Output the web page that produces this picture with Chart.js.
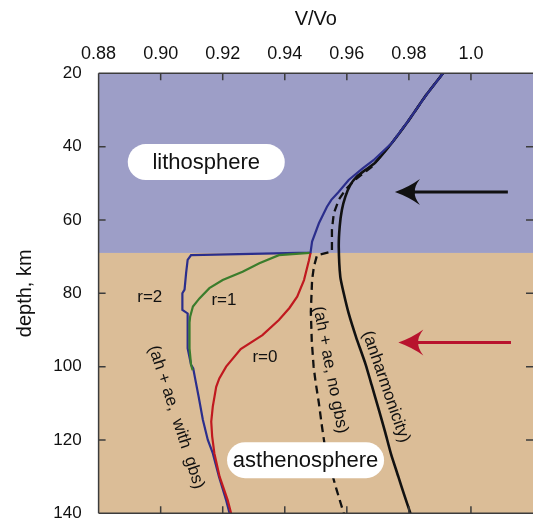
<!DOCTYPE html>
<html lang="en">
<head>
<meta charset="UTF-8">
<title>V/Vo vs depth</title>
<script src="https://cdn.jsdelivr.net/npm/chart.js"></script>
<style>
  html, body { margin: 0; padding: 0; background: #fff; }
  #wrap { width: 533px; height: 524px; }
</style>
</head>
<body>
<div id="wrap"><canvas id="chart"></canvas></div>
<script>
// axis ticks
const velocityTicks = [0.88, 0.90, 0.92, 0.94, 0.96, 0.98, 1.00];
const depthTicks = [20, 40, 60, 80, 100, 120, 140];
const lithosphereBase = 69; // km

// anharmonicity only (solid black)
const anhDepth = [20, 26, 33, 39, 44.5, 46.4, 48.2, 50.5, 53.7, 57.3, 61.8, 67.3, 75.5, 80, 85.5, 92, 99, 105, 112, 118, 124, 130, 135, 140];
const anhV     = [0.991, 0.9855, 0.9798, 0.9745, 0.969, 0.9659, 0.9632, 0.9611, 0.9595, 0.9584, 0.9577, 0.9574, 0.9579, 0.959, 0.9606, 0.963, 0.9659, 0.968, 0.9704, 0.9724, 0.9743, 0.9766, 0.9785, 0.9805];

// ah + ae, no gbs (dashed)
const noGbsDepth = [20, 26, 33, 39, 44, 45.5, 49, 51.8, 54.5, 58.2, 62.7, 68.6, 69.6, 72.7, 76.4, 85, 93, 100, 104, 110, 116.4, 121, 127, 133, 140];
const noGbsV     = [0.991, 0.9855, 0.9798, 0.9745, 0.9695, 0.968, 0.9627, 0.9595, 0.9574, 0.9558, 0.9552, 0.9552, 0.9504, 0.9494, 0.9488, 0.9484, 0.9487, 0.9493, 0.9499, 0.951, 0.952, 0.9528, 0.9545, 0.9565, 0.959];

// ah + ae, with gbs, r=2 (blue)
const r2Depth = [20, 26, 33, 39, 43.7, 46, 49.1, 52.5, 54.5, 56.4, 60.9, 65.9, 68.9, 69.6, 70.9, 74.5, 79, 80, 84.5, 85.5, 95, 99.5, 100.5, 103.2, 108, 114.5, 120, 123.6, 130, 136.4, 140];
const r2V     = [0.991, 0.9855, 0.9798, 0.9745, 0.9686, 0.965, 0.9606, 0.9572, 0.955, 0.9536, 0.951, 0.9488, 0.9483, 0.9098, 0.9087, 0.9082, 0.9077, 0.907, 0.907, 0.9087, 0.9087, 0.9098, 0.9105, 0.9111, 0.9122, 0.9136, 0.9152, 0.9168, 0.9188, 0.9211, 0.9222];

// r=1 (green)
const r1Depth = [69.0, 69.6, 71.8, 74.1, 76.4, 78.6, 81.4, 83.6, 86.4, 88, 95, 99.5, 101];
const r1V     = [0.948, 0.9381, 0.9318, 0.9264, 0.92, 0.9157, 0.9125, 0.9104, 0.9095, 0.9093, 0.9093, 0.9098, 0.9103];

// r=0 (red)
const r0Depth = [69.0, 71, 76.4, 80.9, 84, 87.3, 91.4, 95.2, 100, 103.2, 105.5, 110.9, 115, 119, 123.6, 130, 136.4, 140];
const r0V     = [0.9483, 0.9478, 0.9462, 0.944, 0.9415, 0.9381, 0.9328, 0.9258, 0.9211, 0.9189, 0.9179, 0.9168, 0.9163, 0.9166, 0.9173, 0.919, 0.9216, 0.9227];

const FONT = '"Liberation Sans", Arial, Helvetica, sans-serif';

function pts(depth, v) {
    return depth.map((d, i) => ({ x: v[i], y: d }));
}

function line(data, color, width, extra) {
    return Object.assign({
        data: data,
        showLine: true,
        borderColor: color,
        borderWidth: width,
        pointRadius: 0,
        tension: 0,
        fill: false
    }, extra || {});
}

function drawArrow(ctx, x1, x2, y, color) {
    // x1 = tail, x2 = tip (pointing left)
    ctx.save();
    ctx.strokeStyle = color;
    ctx.fillStyle = color;
    ctx.lineWidth = 3;
    ctx.beginPath();
    ctx.moveTo(x1, y);
    ctx.lineTo(x2 + 18, y);
    ctx.stroke();
    ctx.beginPath();
    ctx.moveTo(x2, y);
    ctx.quadraticCurveTo(x2 + 14, y - 5, x2 + 25, y - 13);
    ctx.quadraticCurveTo(x2 + 19, y - 5, x2 + 20, y);
    ctx.quadraticCurveTo(x2 + 19, y + 5, x2 + 25, y + 13);
    ctx.quadraticCurveTo(x2 + 14, y + 5, x2, y);
    ctx.fill();
    ctx.restore();
}

const decor = {
    id: 'decor',
    beforeDatasetsDraw(chart) {
        const { ctx, chartArea: a, scales: { x, y } } = chart;
        const yb = y.getPixelForValue(lithosphereBase);
        ctx.save();
        ctx.fillStyle = '#9d9ec7';
        ctx.fillRect(a.left, a.top, a.right - a.left, yb - a.top);
        ctx.fillStyle = '#dbbd97';
        ctx.fillRect(a.left, yb, a.right - a.left, a.bottom - yb);
        ctx.restore();
    },
    afterDatasetsDraw(chart) {
        const { ctx, chartArea: a, scales: { x, y } } = chart;
        ctx.save();
        // frame and inward ticks
        ctx.strokeStyle = '#3c3c3c';
        ctx.lineWidth = 1.5;
        ctx.beginPath();
        ctx.moveTo(a.left, a.top); ctx.lineTo(a.right, a.top);
        ctx.moveTo(a.left, a.top); ctx.lineTo(a.left, a.bottom);
        ctx.moveTo(a.left, a.bottom); ctx.lineTo(a.right, a.bottom);
        velocityTicks.forEach(v => {
            const px = x.getPixelForValue(v);
            ctx.moveTo(px, a.top); ctx.lineTo(px, a.top + 7);
            ctx.moveTo(px, a.bottom); ctx.lineTo(px, a.bottom - 7);
        });
        depthTicks.forEach(d => {
            const py = y.getPixelForValue(d);
            ctx.moveTo(a.left, py); ctx.lineTo(a.left + 7, py);
            ctx.moveTo(a.right, py); ctx.lineTo(a.right - 7, py);
        });
        ctx.stroke();

        // arrows
        drawArrow(ctx, x.getPixelForValue(1.0119), x.getPixelForValue(0.9755), y.getPixelForValue(52.4), '#111');
        drawArrow(ctx, x.getPixelForValue(1.0129), x.getPixelForValue(0.9766), y.getPixelForValue(93.4), '#b8132e');

        // region labels in white pills
        const pill = (text, v, d) => {
            const cx = x.getPixelForValue(v), cy = y.getPixelForValue(d);
            const w = 157, h = 36;
            ctx.fillStyle = '#fff';
            ctx.beginPath();
            ctx.roundRect(cx - w / 2, cy - h / 2, w, h, h / 2);
            ctx.fill();
            ctx.fillStyle = '#111';
            ctx.font = '22px ' + FONT;
            ctx.textAlign = 'center';
            ctx.textBaseline = 'middle';
            ctx.fillText(text, cx, cy + 1);
        };
        pill('lithosphere', 0.9147, 44.2);
        pill('asthenosphere', 0.9467, 125.5);

        // curve labels
        const label = (text, v, d, deg, size) => {
            ctx.save();
            ctx.translate(x.getPixelForValue(v), y.getPixelForValue(d));
            ctx.rotate(deg * Math.PI / 180);
            ctx.fillStyle = '#111';
            ctx.font = size + 'px ' + FONT;
            ctx.textAlign = 'center';
            ctx.textBaseline = 'middle';
            ctx.fillText(text, 0, 0);
            ctx.restore();
        };
        label('r=2', 0.8965, 81, 0, 17);
        label('r=1', 0.9204, 82, 0, 17);
        label('r=0', 0.9336, 97.4, 0, 17);
        label('(ah + ae,  with  gbs)', 0.9050, 113.8, 72, 17);
        label('(ah + ae, no gbs)', 0.95465, 100.9, 79, 17);
        label('(anharmonicity)', 0.9726, 105.5, 71, 17);
        ctx.restore();
    }
};

new Chart(document.getElementById('chart'), {
    type: 'scatter',
    data: {
        datasets: [
            line(pts(r1Depth, r1V), '#3b7d2c', 2.2),
            line(pts(r0Depth, r0V), '#c0191f', 2.2),
            line(pts(r2Depth, r2V), '#2b2e8c', 2.2),
            line(pts(noGbsDepth, noGbsV), '#111', 2.3, { borderDash: [8, 5] }),
            line(pts(anhDepth, anhV), '#111', 2.6, { tension: 0.15 })
        ]
    },
    options: {
        responsive: true,
        maintainAspectRatio: false,
        animation: false,
        devicePixelRatio: 1,
        layout: { padding: { left: 0, top: 0, right: -2, bottom: 10.7 } },
        plugins: { legend: { display: false }, tooltip: { enabled: false } },
        scales: {
            x: {
                type: 'linear',
                position: 'top',
                min: 0.88,
                max: 1.02,
                afterBuildTicks: s => { s.ticks = velocityTicks.map(v => ({ value: v })); },
                afterFit: s => { s.height = 73.3; s.paddingLeft = 0; s.paddingRight = 0; },
                grid: { display: false, drawTicks: false },
                border: { display: false },
                ticks: {
                    padding: 8,
                    color: '#111',
                    font: { family: FONT, size: 18 },
                    maxRotation: 0,
                    callback: v => (v === 1 ? '1.0' : v.toFixed(2))
                },
                title: {
                    display: true,
                    text: 'V/Vo',
                    color: '#111',
                    font: { family: FONT, size: 20 },
                    padding: { top: 7, bottom: 0 }
                }
            },
            y: {
                type: 'linear',
                position: 'left',
                reverse: true,
                min: 20,
                max: 140,
                afterBuildTicks: s => { s.ticks = depthTicks.map(v => ({ value: v })); },
                afterFit: s => { s.width = 98.6; s.paddingTop = 0; s.paddingBottom = 0; },
                grid: { display: false, drawTicks: false },
                border: { display: false },
                ticks: {
                    padding: 17,
                    color: '#111',
                    font: { family: FONT, size: 17 }
                },
                title: {
                    display: true,
                    text: 'depth, km',
                    color: '#111',
                    font: { family: FONT, size: 20 },
                    padding: { top: 13, bottom: 0 }
                }
            }
        }
    },
    plugins: [decor]
});
</script>
</body>
</html>
